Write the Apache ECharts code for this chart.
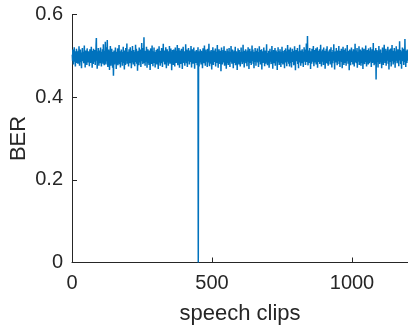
<!DOCTYPE html>
<html>
<head>
<meta charset="utf-8">
<title>BER per speech clip</title>
<script src="https://cdn.jsdelivr.net/npm/echarts@6/dist/echarts.min.js"></script>
<style>
  html, body { margin: 0; padding: 0; background: #fff; }
  #chart { width: 408px; height: 327px; }
</style>
</head>
<body>
<div id="chart"></div>
<script>
// Bit error rate measured for each speech clip (clip 1 .. 1200)
var berValues = [
0.503,0.488,0.515,0.497,0.479,0.508,0.492,0.521,0.486,0.500,0.511,0.474,0.496,0.505,0.490,0.517,0.483,0.499,0.509,0.494,
0.481,0.512,0.497,0.488,0.523,0.493,0.476,0.506,0.498,0.515,0.485,0.502,0.491,0.470,0.508,0.496,0.519,0.487,0.501,0.493,
0.510,0.482,0.497,0.525,0.489,0.504,0.472,0.499,0.513,0.486,0.495,0.507,0.478,0.518,0.492,0.503,0.484,0.511,0.497,0.489,
0.506,0.475,0.500,0.516,0.491,0.483,0.509,0.497,0.522,0.487,0.498,0.471,0.512,0.494,0.505,0.480,0.517,0.490,0.501,0.486,
0.514,0.496,0.478,0.508,0.493,0.527,0.543,0.488,0.502,0.469,0.511,0.495,0.484,0.519,0.499,0.476,0.507,0.491,0.513,0.482,
0.497,0.520,0.486,0.503,0.474,0.510,0.494,0.489,0.516,0.500,0.481,0.528,0.492,0.505,0.477,0.498,0.512,0.485,0.534,0.493,
0.479,0.509,0.496,0.521,0.487,0.538,0.490,0.473,0.506,0.499,0.515,0.482,0.495,0.466,0.511,0.488,0.524,0.497,0.476,0.504,
0.492,0.517,0.483,0.500,0.471,0.509,0.494,0.452,0.487,0.513,0.498,0.479,0.505,0.491,0.520,0.484,0.502,0.468,0.496,0.510,
0.486,0.503,0.518,0.477,0.495,0.508,0.489,0.526,0.493,0.480,0.511,0.497,0.472,0.506,0.490,0.515,0.485,0.501,0.494,0.476,
0.509,0.497,0.522,0.483,0.500,0.491,0.467,0.513,0.496,0.505,0.478,0.519,0.488,0.502,0.494,0.530,0.481,0.498,0.510,0.487,
0.495,0.474,0.507,0.516,0.490,0.503,0.482,0.521,0.497,0.486,0.512,0.470,0.499,0.508,0.492,0.524,0.484,0.501,0.479,0.514,
0.496,0.488,0.510,0.475,0.505,0.493,0.527,0.485,0.500,0.517,0.481,0.494,0.509,0.464,0.498,0.512,0.489,0.503,0.477,0.520,
0.491,0.506,0.484,0.515,0.497,0.473,0.508,0.494,0.531,0.487,0.501,0.519,0.480,0.496,0.511,0.490,0.545,0.483,0.504,0.498,
0.476,0.512,0.493,0.508,0.486,0.522,0.499,0.471,0.505,0.490,0.516,0.482,0.502,0.495,0.478,0.513,0.488,0.507,0.466,0.500,
0.518,0.485,0.497,0.509,0.480,0.525,0.492,0.503,0.475,0.511,0.496,0.489,0.520,0.483,0.506,0.494,0.472,0.510,0.499,0.487,
0.514,0.493,0.479,0.504,0.517,0.488,0.500,0.468,0.509,0.495,0.523,0.484,0.502,0.491,0.476,0.512,0.497,0.506,0.482,0.519,
0.490,0.501,0.473,0.508,0.496,0.529,0.486,0.503,0.494,0.513,0.479,0.498,0.510,0.487,0.521,0.492,0.470,0.505,0.499,0.516,
0.484,0.507,0.493,0.476,0.511,0.500,0.488,0.524,0.495,0.481,0.509,0.497,0.518,0.486,0.502,0.465,0.506,0.492,0.514,0.489,
0.503,0.478,0.515,0.496,0.487,0.510,0.474,0.501,0.520,0.491,0.505,0.483,0.498,0.512,0.489,0.526,0.494,0.477,0.508,0.497,
0.485,0.519,0.499,0.471,0.506,0.492,0.513,0.480,0.502,0.495,0.517,0.486,0.504,0.468,0.509,0.498,0.522,0.488,0.500,0.483,
0.511,0.494,0.476,0.507,0.497,0.528,0.490,0.503,0.482,0.515,0.496,0.473,0.510,0.487,0.501,0.519,0.493,0.506,0.479,0.498,
0.513,0.485,0.502,0.491,0.524,0.496,0.472,0.508,0.489,0.516,0.499,0.481,0.505,0.494,0.520,0.486,0.500,0.469,0.511,0.492,
0.507,0.483,0.498,0.514,0.490,0.503,0.477,0.509,0.495,0.521,0.000,0.488,0.504,0.474,0.511,0.497,0.484,0.516,0.493,0.501,
0.479,0.512,0.496,0.487,0.508,0.470,0.500,0.518,0.491,0.505,0.482,0.497,0.525,0.489,0.502,0.476,0.510,0.494,0.515,0.486,
0.499,0.508,0.473,0.493,0.517,0.484,0.503,0.496,0.529,0.488,0.475,0.511,0.498,0.490,0.506,0.481,0.514,0.495,0.467,0.502,
0.509,0.487,0.521,0.493,0.478,0.505,0.497,0.513,0.485,0.500,0.490,0.518,0.474,0.504,0.492,0.510,0.483,0.498,0.526,0.489,
0.495,0.471,0.507,0.499,0.516,0.486,0.502,0.480,0.512,0.494,0.505,0.463,0.497,0.520,0.488,0.503,0.479,0.509,0.492,0.514,
0.484,0.500,0.523,0.491,0.476,0.508,0.496,0.512,0.487,0.501,0.469,0.506,0.493,0.517,0.482,0.498,0.511,0.478,0.504,0.495,
0.519,0.489,0.502,0.473,0.510,0.497,0.486,0.524,0.492,0.506,0.481,0.499,0.515,0.487,0.503,0.470,0.508,0.494,0.513,0.483,
0.501,0.490,0.522,0.477,0.505,0.496,0.511,0.485,0.499,0.466,0.507,0.493,0.518,0.488,0.502,0.479,0.514,0.495,0.489,0.509,
0.474,0.503,0.497,0.520,0.486,0.510,0.492,0.480,0.506,0.499,0.527,0.484,0.501,0.494,0.472,0.512,0.488,0.505,0.496,0.516,
0.482,0.500,0.509,0.490,0.475,0.513,0.497,0.486,0.521,0.493,0.504,0.468,0.508,0.495,0.517,0.483,0.502,0.491,0.511,0.478,
0.506,0.494,0.525,0.487,0.499,0.515,0.481,0.503,0.492,0.470,0.510,0.497,0.485,0.519,0.496,0.507,0.476,0.501,0.489,0.512,
0.493,0.518,0.484,0.504,0.498,0.473,0.509,0.490,0.523,0.486,0.500,0.514,0.479,0.505,0.495,0.488,0.516,0.467,0.502,0.497,
0.511,0.483,0.506,0.492,0.520,0.487,0.499,0.475,0.513,0.496,0.504,0.481,0.509,0.494,0.528,0.490,0.501,0.477,0.507,0.493,
0.485,0.512,0.498,0.471,0.505,0.491,0.517,0.486,0.502,0.495,0.480,0.510,0.497,0.524,0.488,0.503,0.469,0.508,0.494,0.514,
0.499,0.482,0.506,0.493,0.519,0.476,0.501,0.490,0.513,0.487,0.504,0.496,0.466,0.509,0.492,0.521,0.484,0.500,0.511,0.478,
0.505,0.494,0.516,0.488,0.498,0.473,0.510,0.497,0.483,0.522,0.491,0.503,0.479,0.512,0.495,0.487,0.507,0.500,0.470,0.514,
0.489,0.502,0.518,0.484,0.496,0.508,0.475,0.511,0.493,0.526,0.486,0.499,0.505,0.481,0.515,0.492,0.474,0.504,0.497,0.520,
0.483,0.509,0.495,0.472,0.506,0.490,0.517,0.498,0.485,0.512,0.501,0.477,0.508,0.494,0.523,0.488,0.503,0.465,0.510,0.496,
0.514,0.487,0.500,0.492,0.519,0.480,0.505,0.497,0.470,0.511,0.489,0.502,0.527,0.484,0.498,0.509,0.476,0.513,0.493,0.506,
0.482,0.516,0.495,0.488,0.504,0.473,0.510,0.499,0.521,0.486,0.501,0.491,0.515,0.478,0.507,0.494,0.530,0.485,0.503,0.497,
0.548,0.490,0.477,0.508,0.496,0.513,0.483,0.500,0.519,0.487,0.505,0.468,0.511,0.493,0.502,0.481,0.517,0.495,0.509,0.486,
0.498,0.524,0.491,0.475,0.506,0.500,0.514,0.484,0.503,0.492,0.518,0.479,0.510,0.496,0.488,0.521,0.471,0.505,0.497,0.512,
0.485,0.501,0.493,0.516,0.480,0.508,0.495,0.527,0.489,0.502,0.474,0.511,0.498,0.486,0.515,0.492,0.506,0.478,0.520,0.494,
0.503,0.488,0.512,0.469,0.499,0.507,0.483,0.517,0.496,0.490,0.523,0.481,0.504,0.497,0.476,0.510,0.492,0.513,0.487,0.500,
0.516,0.479,0.505,0.494,0.521,0.486,0.499,0.472,0.509,0.495,0.482,0.514,0.491,0.503,0.528,0.488,0.497,0.467,0.508,0.493,
0.511,0.484,0.500,0.519,0.490,0.506,0.477,0.498,0.513,0.487,0.502,0.494,0.524,0.480,0.507,0.496,0.473,0.512,0.489,0.505,
0.492,0.517,0.485,0.501,0.470,0.509,0.497,0.522,0.488,0.504,0.478,0.514,0.493,0.499,0.483,0.518,0.495,0.507,0.476,0.510,
0.487,0.503,0.526,0.491,0.498,0.481,0.512,0.494,0.506,0.465,0.500,0.515,0.489,0.502,0.477,0.509,0.496,0.520,0.485,0.504,
0.493,0.511,0.479,0.497,0.516,0.488,0.501,0.474,0.508,0.495,0.529,0.484,0.503,0.490,0.513,0.482,0.499,0.519,0.471,0.506,
0.496,0.510,0.486,0.502,0.523,0.478,0.494,0.507,0.489,0.515,0.500,0.476,0.512,0.492,0.505,0.483,0.520,0.497,0.468,0.509,
0.488,0.504,0.517,0.493,0.480,0.511,0.498,0.485,0.525,0.491,0.503,0.474,0.508,0.496,0.514,0.487,0.501,0.479,0.518,0.494,
0.507,0.482,0.499,0.512,0.490,0.521,0.486,0.505,0.473,0.510,0.495,0.516,0.483,0.502,0.492,0.531,0.488,0.500,0.477,0.513,
0.494,0.508,0.481,0.497,0.519,0.443,0.503,0.490,0.514,0.485,0.506,0.498,0.472,0.511,0.493,0.524,0.487,0.501,0.480,0.509,
0.496,0.515,0.484,0.502,0.491,0.470,0.507,0.499,0.520,0.486,0.504,0.478,0.512,0.495,0.527,0.489,0.500,0.483,0.510,0.492,
0.517,0.476,0.505,0.497,0.488,0.513,0.494,0.522,0.481,0.501,0.508,0.467,0.499,0.515,0.490,0.503,0.485,0.518,0.496,0.474,
0.509,0.493,0.526,0.487,0.500,0.512,0.479,0.506,0.495,0.484,0.519,0.491,0.502,0.471,0.511,0.497,0.488,0.523,0.494,0.505,
0.482,0.510,0.498,0.516,0.486,0.503,0.475,0.508,0.492,0.535,0.489,0.501,0.514,0.480,0.497,0.506,0.469,0.511,0.495,0.520,
0.487,0.504,0.493,0.517,0.478,0.499,0.509,0.485,0.541,0.496,0.502,0.473,0.512,0.490,0.507,0.483,0.515,0.498,0.488,0.510
];

// Axis ticks
var xTicks = [0, 500, 1000];
var yTicks = [0, 0.2, 0.4, 0.6];

var clipNumbers = berValues.map(function (v, i) { return i + 1; });
var seriesData = berValues.map(function (v, i) { return [clipNumbers[i], v]; });

var ink = '#262626';
var font = '"Liberation Sans", Arial, Helvetica, sans-serif';

var chart = echarts.init(document.getElementById('chart'), null, { renderer: 'canvas' });
chart.setOption({
  animation: false,
  backgroundColor: '#ffffff',
  grid: {
    left: 72, right: 0, top: 14.5, bottom: 64.5,
    containLabel: false,
    outerBoundsMode: 'none'
  },
  xAxis: {
    type: 'value',
    min: 0,
    max: 1200,
    interval: 500,
    name: 'speech clips',
    nameLocation: 'middle',
    nameGap: 40,
    nameMoveOverlap: false,
    nameTextStyle: { color: ink, fontSize: 22, fontFamily: font },
    axisLine: { show: true, onZero: false, lineStyle: { color: ink, width: 1 } },
    axisTick: { show: true, inside: true, length: 5, customValues: xTicks, lineStyle: { color: ink } },
    axisLabel: {
      customValues: xTicks, color: ink, fontSize: 20, fontFamily: font, margin: 11,
      formatter: function (v) { return String(v); }
    },
    splitLine: { show: false }
  },
  yAxis: {
    type: 'value',
    min: 0,
    max: 0.6,
    interval: 0.2,
    name: 'BER',
    nameLocation: 'middle',
    nameGap: 42.5,
    nameMoveOverlap: false,
    nameTextStyle: { color: ink, fontSize: 22, fontFamily: font },
    axisLine: { show: true, onZero: false, lineStyle: { color: ink, width: 1 } },
    axisTick: { show: true, inside: true, length: 5, customValues: yTicks, lineStyle: { color: ink } },
    axisLabel: {
      customValues: yTicks, color: ink, fontSize: 20, fontFamily: font, margin: 9,
      formatter: function (v) { return String(+v.toFixed(1)); }
    },
    splitLine: { show: false }
  },
  series: [{
    type: 'line',
    data: seriesData,
    showSymbol: false,
    symbol: 'none',
    lineStyle: { color: '#0072BD', width: 1.5 },
    itemStyle: { color: '#0072BD' },
    clip: true
  }]
});
</script>
</body>
</html>
